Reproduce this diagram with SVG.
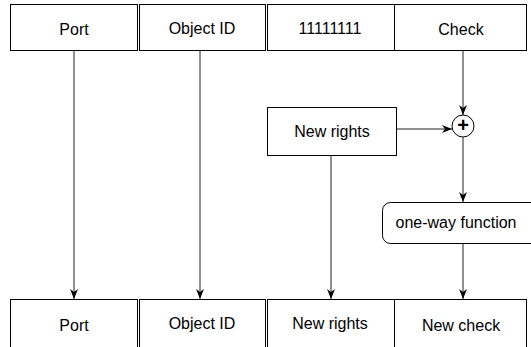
<svg xmlns="http://www.w3.org/2000/svg" width="531" height="347" viewBox="0 0 531 347">
<style>
.box{fill:#fff;stroke:#000;stroke-width:1}
.t{font-family:"Liberation Sans",Arial,sans-serif;font-size:16px;fill:#000;text-anchor:middle;dominant-baseline:central}
.c{stroke:#222;stroke-width:1;fill:none;marker-end:url(#ah)}
</style>
<defs>
<marker id="ah" markerWidth="10" markerHeight="8" refX="10" refY="4" orient="auto" markerUnits="userSpaceOnUse">
<path d="M0,0 L10,4 L0,8 L3,4 Z" fill="#000"/>
</marker>
</defs>
<rect width="531" height="347" fill="#fff"/>
<g id="top-port"><rect class="box" x="10.5" y="4.5" width="127" height="46"/><text class="t" x="74" y="29">Port</text></g>
<g id="top-objectid"><rect class="box" x="139.5" y="4.5" width="126" height="46"/><text class="t" x="202" y="28">Object ID</text></g>
<g id="top-ones"><rect class="box" x="267.5" y="4.5" width="127" height="46"/><text class="t" x="330" y="28">11111111</text></g>
<g id="top-check"><rect class="box" x="394.5" y="4.5" width="132" height="46"/><text class="t" x="461" y="29">Check</text></g>
<g id="newrights"><rect class="box" x="267.5" y="107.5" width="129" height="48"/><text class="t" x="332" y="131">New rights</text></g>
<g id="xor"><circle cx="463" cy="126" r="11" fill="#fff" stroke="#000"/><text class="t" x="463" y="125" style="font-size:20px;font-weight:bold">+</text></g>
<g id="oneway"><rect class="box" x="382.5" y="202.5" width="160" height="41" rx="8"/><text class="t" x="456" y="222">one-way function</text></g>
<g id="bot-port"><rect class="box" x="10.5" y="299.5" width="127" height="60"/><text class="t" x="74" y="325">Port</text></g>
<g id="bot-objectid"><rect class="box" x="139.5" y="299.5" width="126" height="60"/><text class="t" x="202" y="323">Object ID</text></g>
<g id="bot-newrights"><rect class="box" x="267.5" y="299.5" width="127" height="60"/><text class="t" x="330" y="323">New rights</text></g>
<g id="bot-newcheck"><rect class="box" x="394.5" y="299.5" width="132" height="60"/><text class="t" x="461" y="325">New check</text></g>
<g id="connectors">
<line class="c" x1="74" y1="51" x2="74" y2="299"/>
<line class="c" x1="200" y1="51" x2="200" y2="299"/>
<line class="c" x1="331" y1="156" x2="331" y2="299"/>
<line class="c" x1="463" y1="51" x2="463" y2="115"/>
<line class="c" x1="397" y1="129" x2="452" y2="129"/>
<line class="c" x1="463" y1="137" x2="463" y2="202"/>
<line class="c" x1="463" y1="244" x2="463" y2="299"/>
</g>
</svg>
